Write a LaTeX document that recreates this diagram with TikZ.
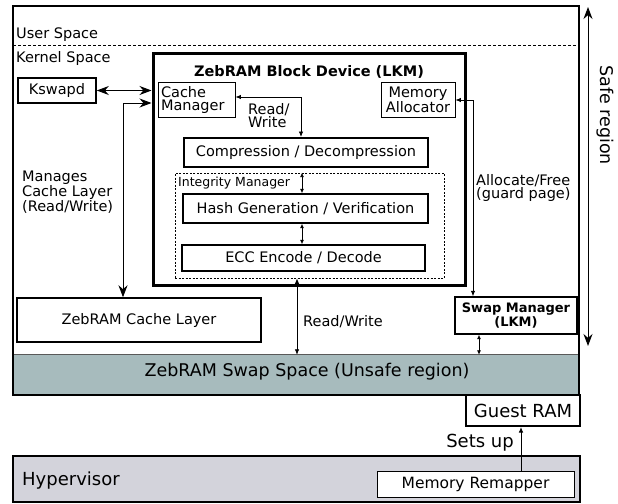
\documentclass[tikz,border=0pt]{standalone}
\usepackage{fontspec}
\setmainfont{DejaVu Sans}
\usetikzlibrary{arrows.meta,calc}
\definecolor{swapgray}{HTML}{A7BBBD}
\definecolor{hypgray}{HTML}{D3D3DB}
\begin{document}
\begin{tikzpicture}[x=1pt,y=-1pt,
  fnt/.style={font=\fontsize{14.5}{13}\selectfont},
  box/.style={draw, inner sep=0pt, align=center, fnt},
  lbl/.style={inner sep=0pt, align=left, fnt},
  big/.style={{Stealth[length=12pt,width=9pt]}-{Stealth[length=12pt,width=9pt]}, line width=1pt},
  small/.style={{Latex[length=5.5pt,width=4.5pt]}-{Latex[length=5.5pt,width=4.5pt]}, line width=0.8pt},
  tiny/.style={{Latex[length=4.5pt,width=4pt]}-{Latex[length=4.5pt,width=4pt]}, line width=0.8pt}
]
\useasboundingbox (0,0) rectangle (618,503);

% swap space and outer frame
\node[fill=swapgray, minimum width=566pt, minimum height=40pt, inner sep=0pt] (swap) at (296,375) {};
\draw[gray!70!black, line width=0.8pt] (swap.north west) -- (swap.north east);
\node[font=\fontsize{17.5}{17.5}\selectfont, inner sep=0pt] (swaplbl) at (307,372) {ZebRAM Swap Space (Unsafe region)};
\node[draw, line width=2pt, minimum width=566pt, minimum height=389pt, inner sep=0pt] (outer) at (296,200.5) {};

% user / kernel separator
\coordinate (sepl) at (13,45.5);
\coordinate (sepr) at (579,45.5);
\draw[dashed, dash pattern=on 3pt off 2pt, line width=0.8pt] (sepl) -- (sepr);
\node[lbl, anchor=base west] (user) at (16,39) {User Space};
\node[lbl, anchor=base west] (kernel) at (16,63) {Kernel Space};

% safe region
\coordinate (sr1) at (588,7);
\coordinate (sr2) at (588,346);
\draw[big] (sr1) -- (sr2);
\node[font=\fontsize{17.5}{17.5}\selectfont, inner sep=0pt, rotate=-90] (safe) at (605,115) {Safe region};

% block device
\node[draw, line width=3pt, minimum width=312pt, minimum height=231pt, inner sep=0pt] (blockdev) at (309,169.5) {};
\node[font=\fontsize{14.5}{14.5}\selectfont\bfseries, anchor=base, inner sep=0pt] (title) at (309,76) {ZebRAM Block Device (LKM)};

\node[box, line width=1.6pt, minimum width=78pt, minimum height=25pt] (kswapd) at (57,90.5) {Kswapd};
\node[box, line width=0.9pt, minimum width=77pt, minimum height=35pt, text width=71pt, align=left, font=\fontsize{14.5}{13}\selectfont] (cachemgr) at (196.5,99.5) {Cache\\Manager};
\node[box, line width=0.9pt, minimum width=74pt, minimum height=35pt, font=\fontsize{14.5}{13}\selectfont] (memalloc) at (418,99.5) {Memory\\Allocator};
\node[box, line width=2pt, minimum width=244pt, minimum height=29pt] (compr) at (306,152.5) {Compression / Decompression};

\node[draw, line width=0.8pt, dash pattern=on 2pt off 1.5pt, minimum width=269pt, minimum height=105pt, inner sep=0pt] (integrity) at (309.5,225.5) {};
\node[inner sep=0pt, anchor=base west, font=\fontsize{12.5}{12.5}\selectfont] (intlbl) at (178,186) {Integrity Manager};
\node[box, line width=1.4pt, minimum width=245pt, minimum height=29pt] (hash) at (305.5,208.5) {Hash Generation / Verification};
\node[box, line width=1.4pt, minimum width=243pt, minimum height=26pt] (ecc) at (303.5,258) {ECC Encode / Decode};

\node[box, line width=1.4pt, minimum width=244pt, minimum height=44pt] (cachelayer) at (139,320) {ZebRAM Cache Layer};
\node[box, line width=1.4pt, minimum width=122pt, minimum height=37pt, font=\fontsize{13}{12}\selectfont\bfseries] (swapmgr) at (516,315.5) {Swap Manager\\(LKM)};

% labels
\node[lbl, anchor=north west] (manages) at (22,171) {Manages\\Cache Layer\\(Read/Write)};
\node[lbl, anchor=north west] (rw1) at (248,103) {Read/\\Write};
\node[lbl, anchor=north west] (alloc) at (476,174) {Allocate/Free\\(guard page)};
\node[lbl, anchor=base west] (rw2) at (303,326) {Read/Write};

% connectors
\draw[big] (kswapd.east) -- (kswapd.east -| blockdev.west);
\coordinate (mc) at (123,103);
\draw[big] (mc -| blockdev.west) -- (mc) -- (mc |- cachelayer.north);
\coordinate (rwx) at (301,97);
\draw[small] (cachemgr.east |- rwx) -- (rwx) -- (rwx |- compr.north);
\coordinate (ix) at (302,0);
\draw[tiny] (integrity.north -| ix) -- (hash.north -| ix);
\draw[tiny] (hash.south -| ix) -- (ecc.north -| ix);
\coordinate (bx) at (297,0);
\draw[small] (integrity.south -| bx) -- (swap.north -| bx);
\coordinate (ax) at (473,100);
\draw[small] (memalloc.east |- ax) -- (ax) -- (ax |- swapmgr.north);
\coordinate (sx) at (479,0);
\draw[tiny] (swapmgr.south -| sx) -- (swap.north -| sx);

% guest RAM and hypervisor
\node[box, line width=2pt, minimum width=114pt, minimum height=31pt, font=\fontsize{18}{18}\selectfont] (guest) at (523,410.5) {Guest RAM};
\node[draw, line width=1.4pt, fill=hypgray, minimum width=567pt, minimum height=46pt, inner sep=0pt] (hyp) at (296.5,479) {};
\node[inner sep=0pt, anchor=base west, font=\fontsize{18}{18}\selectfont] (hyplbl) at (22,485) {Hypervisor};
\node[box, fill=white, line width=0.9pt, minimum width=197pt, minimum height=26pt, font=\fontsize{15.5}{15.5}\selectfont] (remap) at (475.5,484) {Memory Remapper};
\coordinate (gx) at (521,0);
\draw[-{Latex[length=5.5pt,width=4.5pt]}, line width=0.9pt] (remap.north -| gx) -- (guest.south -| gx);
\node[inner sep=0pt, anchor=base east, font=\fontsize{18}{18}\selectfont] (setsup) at (514,447) {Sets up};
\end{tikzpicture}
\end{document}
